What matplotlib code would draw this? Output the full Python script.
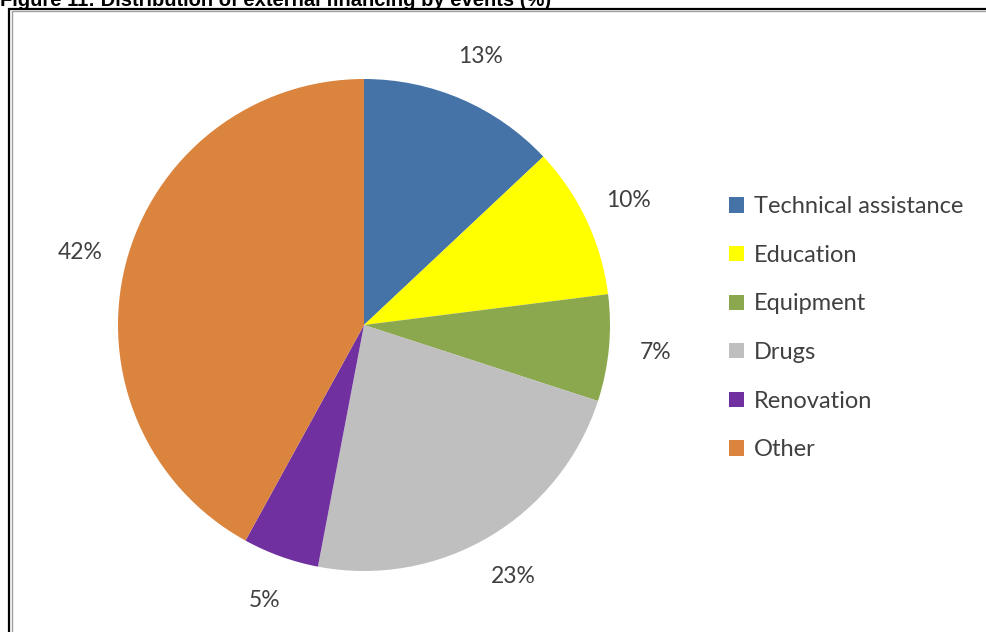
import matplotlib.pyplot as plt
from matplotlib.patches import Patch, Rectangle

categories = ['Technical assistance', 'Education', 'Equipment', 'Drugs', 'Renovation', 'Other']
shares = [13, 10, 7, 23, 5, 42]
colors = ['#4572A7', '#FFFF00', '#8BA84F', '#BFBFBF', '#7030A0', '#DB843D']

W, H = 986, 632
fig = plt.figure(figsize=(W / 100, H / 100), dpi=100)

# frame around the chart area (right and bottom edges run off the page)
fig.patches.append(Rectangle((9 / W, -0.01), 1.0, (H - 8.5) / H + 0.01, transform=fig.transFigure,
                             fill=False, edgecolor='black', linewidth=1.6))
fig.patches.append(Rectangle((11.5 / W, -0.01), 1.0, (H - 11) / H + 0.01, transform=fig.transFigure,
                             fill=False, edgecolor='#A0A0A0', linewidth=1.0))

fig.text(0.0, (H - 6) / H, 'Figure 11: Distribution of external financing by events (%)',
         fontsize=14.5, fontweight='bold', family='Liberation Sans', va='baseline', ha='left')

R = 246
cx, cy = 364, 325
side = 2.5 * R
ax = fig.add_axes([(cx - side / 2) / W, (H - cy - side / 2) / H, side / W, side / H])
wedges, _, autotexts = ax.pie(shares, colors=colors, startangle=90, counterclock=False,
                              autopct='%.0f%%', pctdistance=1.19,
                              wedgeprops=dict(linewidth=0))
for t in autotexts:
    t.set_fontsize(16.5)
    t.set_family('Lato')
    t.set_color('#404040')
ax.set_aspect('equal')

handles = [Patch(facecolor=c, edgecolor='none') for c in colors]
fig.legend(handles, categories, loc='upper left', bbox_to_anchor=(708 / W, (H - 175) / H),
           frameon=False, prop={'family': 'Lato', 'size': 17}, labelcolor='#404040',
           handlelength=0.62, handleheight=0.62, handletextpad=0.42, labelspacing=1.17)

fig.savefig('out.png', dpi=100)
